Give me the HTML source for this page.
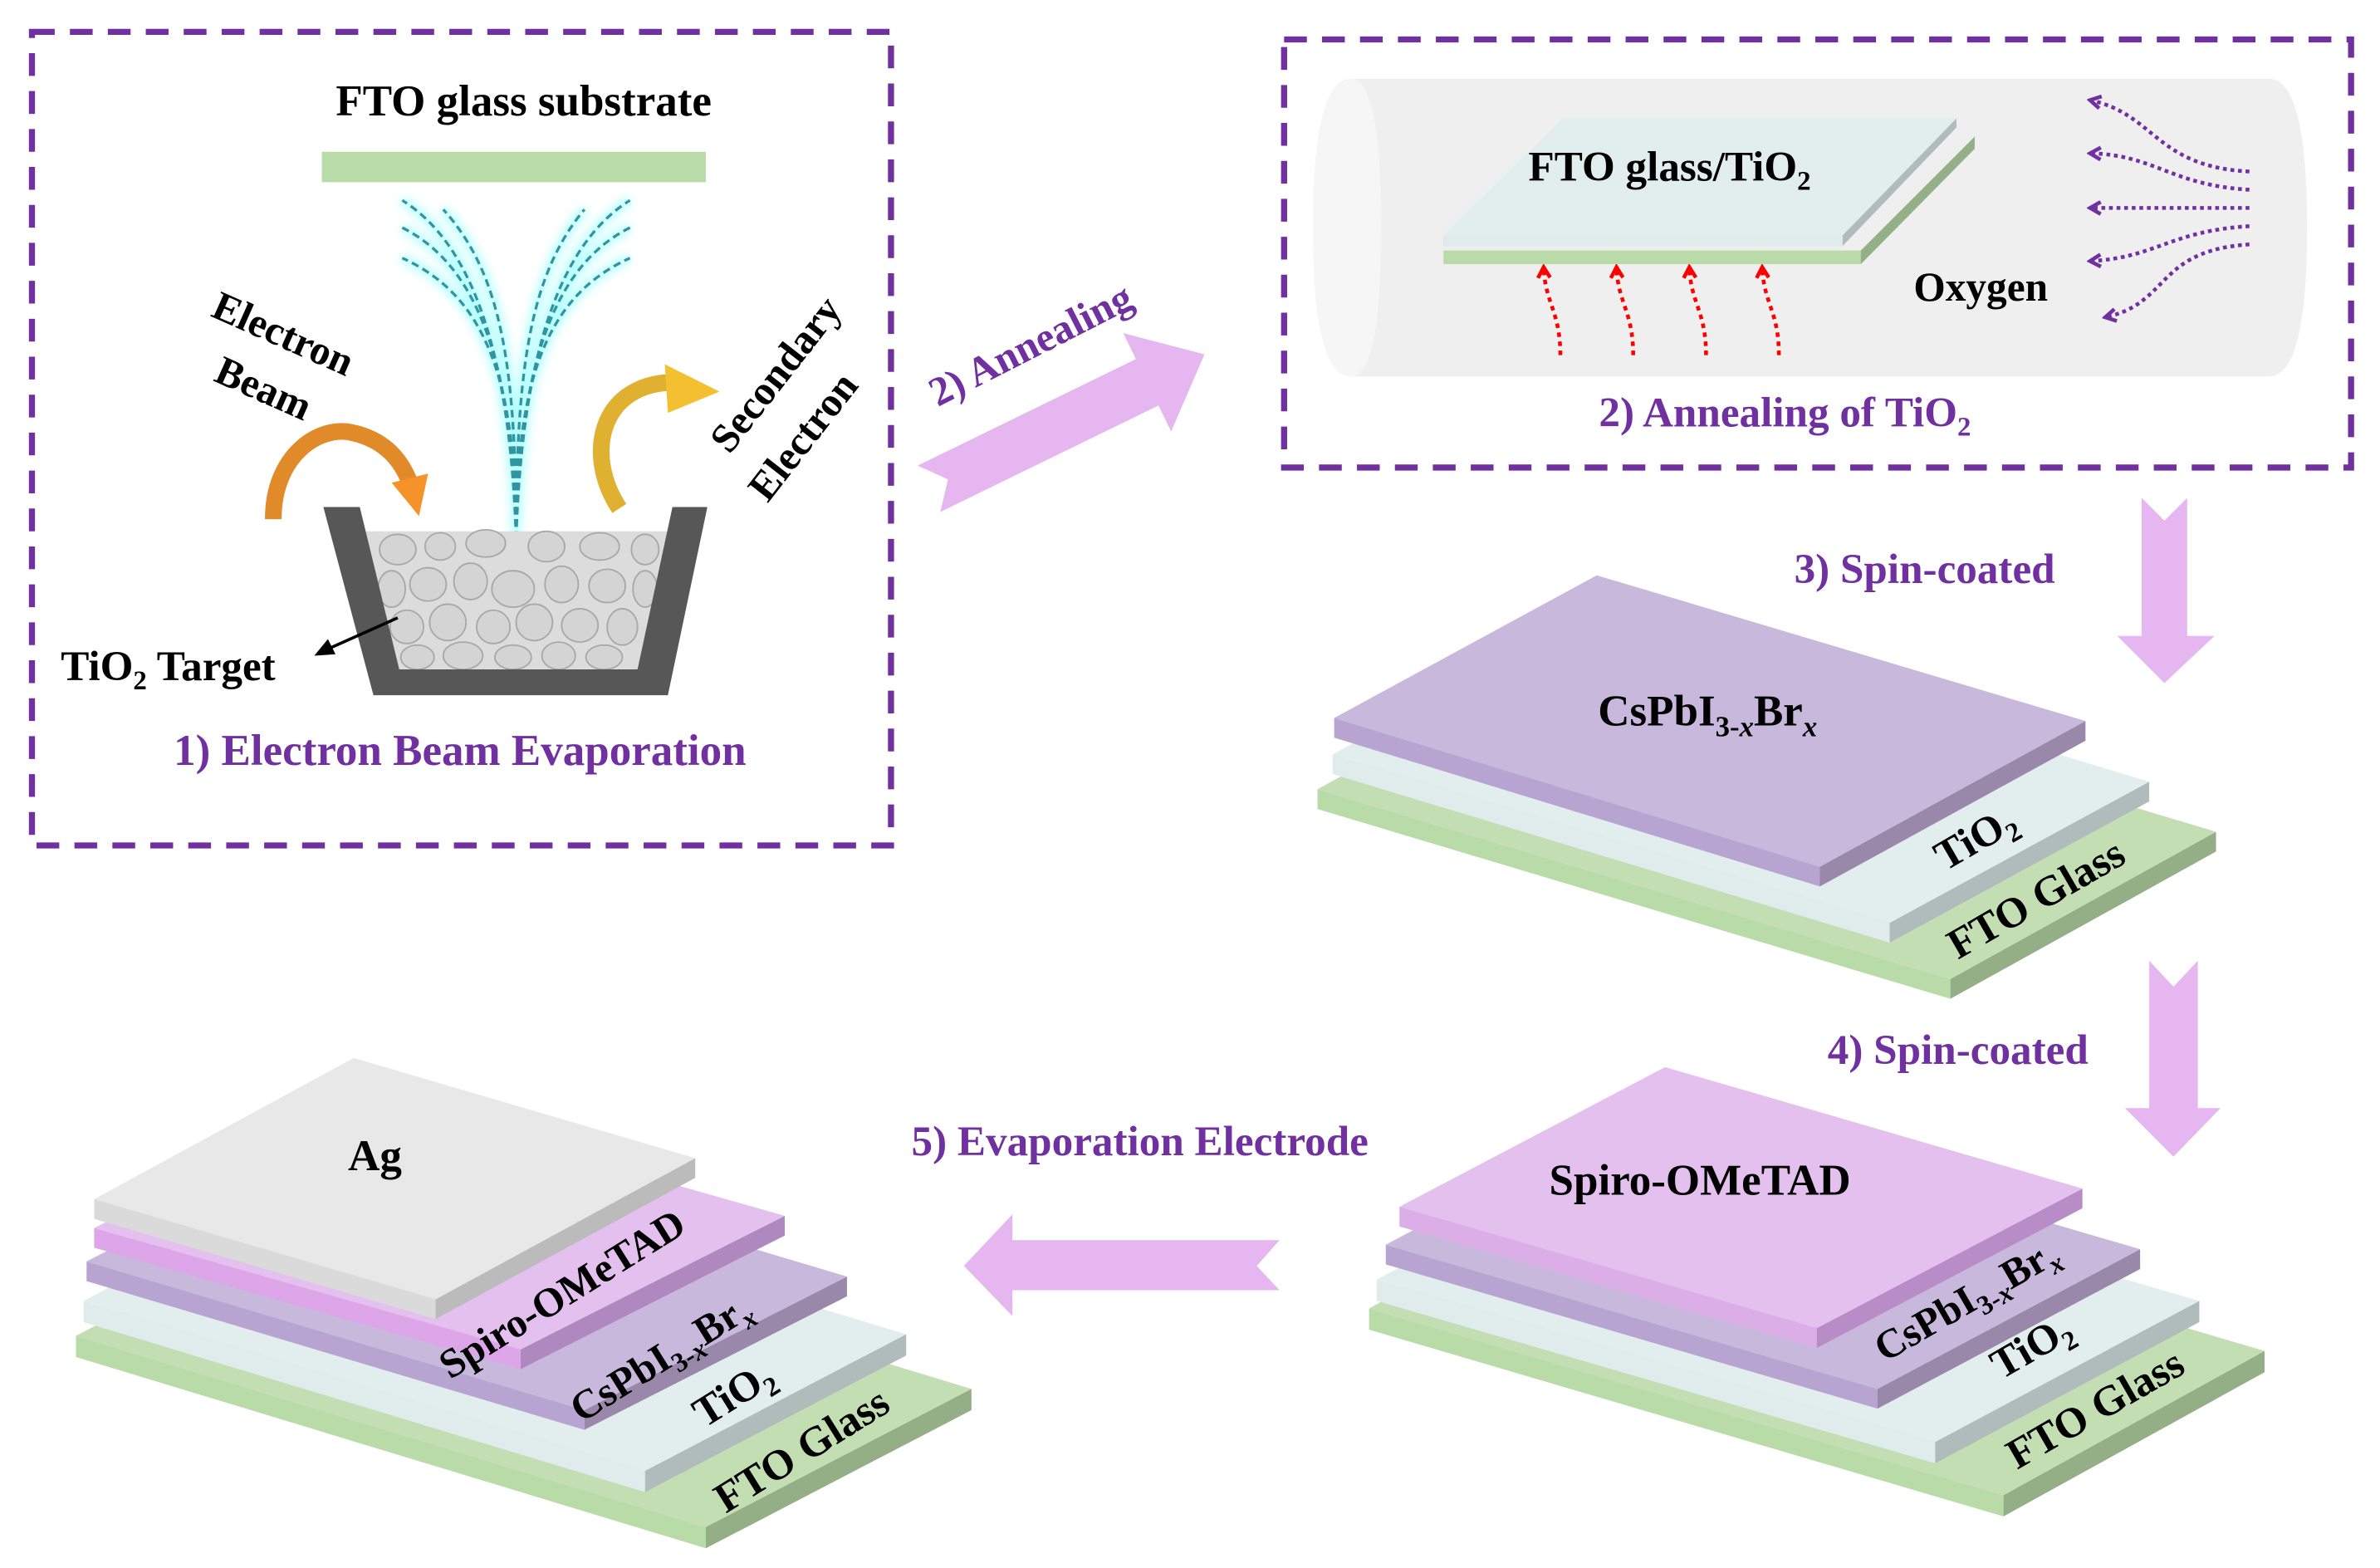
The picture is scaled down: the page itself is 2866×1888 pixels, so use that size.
<!DOCTYPE html>
<html><head><meta charset="utf-8"><style>html,body{margin:0;padding:0;background:#fff}svg{display:block}text{font-family:"Liberation Serif",serif;font-weight:bold}</style></head>
<body>
<svg width="2866" height="1888" viewBox="0 0 1568 1033" xmlns="http://www.w3.org/2000/svg">
<defs>
<filter id="glow" x="-20%" y="-20%" width="140%" height="140%"><feGaussianBlur stdDeviation="3"/></filter>
<marker id="pa" markerWidth="10" markerHeight="10" refX="8" refY="5" orient="auto" markerUnits="userSpaceOnUse"><path d="M1,1 L8,5 L1,9" fill="none" stroke="#7030a0" stroke-width="2.5"/></marker>
<marker id="ra" markerWidth="10" markerHeight="10" refX="8" refY="5" orient="auto" markerUnits="userSpaceOnUse"><path d="M1,1 L8,5 L1,9" fill="none" stroke="#ff0000" stroke-width="2.5"/></marker>
</defs>
<!-- Box 1 -->
<rect x="21" y="21" width="566" height="536" fill="none" stroke="#7030a0" stroke-width="4" stroke-dasharray="15,10"/>
<text x="345" y="76" font-size="29" text-anchor="middle">FTO glass substrate</text>
<rect x="212" y="100" width="253" height="20" fill="#b9dba8"/>
<g fill="none" stroke="#8ff" stroke-width="6" opacity="0.6" filter="url(#glow)">
<path d="M340,355 C340,250 320,195 265,170"/><path d="M340,355 C338,240 315,175 265,150"/><path d="M340,355 C336,230 310,160 265,132"/><path d="M340,355 C340,240 330,180 292,138"/>
<path d="M340,355 C340,250 360,195 415,170"/><path d="M340,355 C342,240 365,175 415,150"/><path d="M340,355 C344,230 370,160 415,132"/><path d="M340,355 C340,240 350,180 385,138"/>
</g>
<g fill="none" stroke="#2f95a0" stroke-width="1.8" stroke-dasharray="5,3">
<path d="M340,355 C340,250 320,195 265,170"/><path d="M340,355 C338,240 315,175 265,150"/><path d="M340,355 C336,230 310,160 265,132"/><path d="M340,355 C340,240 330,180 292,138"/>
<path d="M340,355 C340,250 360,195 415,170"/><path d="M340,355 C342,240 365,175 415,150"/><path d="M340,355 C344,230 370,160 415,132"/><path d="M340,355 C340,240 350,180 385,138"/>
</g>
<!-- crucible -->
<polygon points="240,350 440,350 424,443 257,443" fill="#dcdcdc"/>
<g fill="#d4d4d4" stroke="#a8a8a8" stroke-width="1">
<ellipse cx="262" cy="362" rx="12" ry="10"/><ellipse cx="290" cy="360" rx="10" ry="9"/><ellipse cx="320" cy="358" rx="13" ry="9"/><ellipse cx="360" cy="360" rx="12" ry="10"/><ellipse cx="395" cy="360" rx="13" ry="9"/><ellipse cx="425" cy="362" rx="9" ry="10"/>
<ellipse cx="258" cy="388" rx="9" ry="12"/><ellipse cx="282" cy="385" rx="12" ry="11"/><ellipse cx="310" cy="383" rx="11" ry="12"/><ellipse cx="338" cy="388" rx="14" ry="12"/><ellipse cx="370" cy="385" rx="11" ry="12"/><ellipse cx="400" cy="386" rx="12" ry="11"/><ellipse cx="425" cy="388" rx="8" ry="12"/>
<ellipse cx="268" cy="413" rx="11" ry="11"/><ellipse cx="295" cy="410" rx="12" ry="12"/><ellipse cx="325" cy="413" rx="11" ry="11"/><ellipse cx="352" cy="410" rx="12" ry="12"/><ellipse cx="382" cy="412" rx="12" ry="11"/><ellipse cx="410" cy="413" rx="10" ry="12"/>
<ellipse cx="275" cy="433" rx="11" ry="8"/><ellipse cx="305" cy="432" rx="13" ry="9"/><ellipse cx="338" cy="433" rx="12" ry="8"/><ellipse cx="368" cy="432" rx="11" ry="9"/><ellipse cx="398" cy="433" rx="12" ry="8"/>
</g>
<polygon points="213,334 237,334 263,441 420,441 443,334 466,334 440,458 246,458" fill="#575757"/>
<!-- electron beam arrows -->
<path d="M180,342 C180,300 210,280 232,285 C255,290 265,305 270,318" fill="none" stroke="#e08a2a" stroke-width="11"/>
<polygon points="258,318 282,312 276,340" fill="#f5922a"/>
<path d="M408,335 C385,300 395,255 440,252" fill="none" stroke="#e0b030" stroke-width="11"/>
<polygon points="438,240 474,258 440,272" fill="#f2c030"/>
<text font-size="27" transform="translate(183,228) rotate(24)" text-anchor="middle">Electron</text>
<text font-size="27" transform="translate(170,264) rotate(24)" text-anchor="middle">Beam</text>
<text font-size="27" transform="translate(518,252) rotate(-52)" text-anchor="middle">Secondary</text>
<text font-size="27" transform="translate(536,293) rotate(-52)" text-anchor="middle">Electron</text>
<text x="40" y="448" font-size="28">TiO<tspan font-size="18" dy="6">2</tspan><tspan dy="-6"> Target</tspan></text>
<line x1="262" y1="407" x2="215" y2="428" stroke="#000" stroke-width="2"/>
<polygon points="207,432 216,421 221,431" fill="#000"/>
<text x="303" y="504" font-size="29" fill="#7030a0" text-anchor="middle">1) Electron Beam Evaporation</text>
<!-- annealing arrow -->
<polygon transform="translate(612,322) rotate(-26)" points="0,-17 160,-17 160,-36 202,0 160,36 160,17 0,17 14,0" fill="#e6b6f0"/>
<text font-size="27" fill="#7030a0" transform="translate(683,235) rotate(-27)" text-anchor="middle">2) Annealing</text>
<!-- Box 2 -->
<rect x="846" y="26" width="703" height="282" fill="none" stroke="#7030a0" stroke-width="4" stroke-dasharray="15,10"/>
<path d="M890,52 L1495,52 Q1520,52 1520,150 Q1520,248 1495,248 L890,248 Q865,248 865,150 Q865,52 890,52 Z" fill="#efefef"/>
<path d="M890,52 Q865,52 865,150 Q865,248 890,248 Q910,248 910,150 Q910,52 890,52 Z" fill="#f6f6f6"/>
<polygon points="951,165 1226,165 1301,90 1301,98 1226,174 951,174" fill="#b9dba8"/>
<polygon points="1226,174 1301,98 1301,90 1226,165" fill="#95b088"/>
<polygon points="951,155 1214,155 1289,78 1289,84 1214,162 951,162" fill="#b0bcbc"/>
<polygon points="951,155 1214,155 1289,78 1029,78" fill="#e2eeee"/>
<polygon points="951,155 1214,155 1214,162 951,162" fill="#e0ecec"/>
<text x="1100" y="119" font-size="28" text-anchor="middle">FTO glass/TiO<tspan font-size="18" dy="6">2</tspan></text>
<g fill="none" stroke="#ff0000" stroke-width="2.5" stroke-dasharray="3,3" marker-end="url(#ra)">
<path d="M1028,234 C1028,205 1018,200 1017,176"/><path d="M1076,234 C1076,205 1066,200 1065,176"/><path d="M1124,234 C1124,205 1114,200 1113,176"/><path d="M1172,234 C1172,205 1162,200 1161,176"/>
</g>
<g fill="none" stroke="#7030a0" stroke-width="2.5" stroke-dasharray="2.5,2.5" marker-end="url(#pa)">
<path d="M1482,113 C1420,110 1420,75 1377,66"/><path d="M1482,125 C1430,122 1420,102 1377,101"/><path d="M1482,137 L1377,137"/><path d="M1482,149 C1430,152 1420,170 1377,172"/><path d="M1482,161 C1420,165 1430,200 1387,209"/>
</g>
<text x="1305" y="198" font-size="27" text-anchor="middle">Oxygen</text>
<text x="1176" y="281" font-size="28" fill="#7030a0" text-anchor="middle">2) Annealing of TiO<tspan font-size="18" dy="6">2</tspan></text>
<!-- down arrows -->
<polygon points="1411,328 1426,343 1441,328 1441,419 1459,419 1426,450 1395,419 1411,419" fill="#e6b6f0"/>
<text x="1268" y="384" font-size="28" fill="#7030a0" text-anchor="middle">3) Spin-coated</text>
<polygon points="1416,633 1432,650 1448,633 1448,730 1463,730 1432,762 1400,730 1416,730" fill="#e6b6f0"/>
<text x="1290" y="701" font-size="28" fill="#7030a0" text-anchor="middle">4) Spin-coated</text>
<!-- left arrow -->
<polygon points="843,817 828,834 843,850 667,850 667,867 635,834 667,800 667,817" fill="#e6b6f0"/>
<text x="751" y="761" font-size="28" fill="#7030a0" text-anchor="middle">5) Evaporation Electrode</text>

<!-- Stack 1 -->
<g>
<polygon points="868,520 1285,645 1285,658 868,533" fill="#b9dba8"/><polygon points="1285,645 1460,548 1460,561 1285,658" fill="#94ae86"/><polygon points="868,520 1043,423 1460,548 1285,645" fill="#c4deb4"/>
<polygon points="878,497 1245,608 1245,621 878,510" fill="#e0ecec"/><polygon points="1245,608 1416,515 1416,528 1245,621" fill="#b0bcbc"/><polygon points="878,497 1049,404 1416,515 1245,608" fill="#e2eeee"/>
<polygon points="879,473 1199,571 1199,584 879,486" fill="#b8a4d0"/><polygon points="1199,571 1374,475 1374,488 1199,584" fill="#9a88aa"/><polygon points="879,473 1052,379 1374,475 1199,571" fill="#c8b8dc"/>
<text x="1125" y="478" font-size="29" text-anchor="middle">CsPbI<tspan font-size="19" dy="7">3-<tspan font-style="italic">x</tspan></tspan><tspan dy="-7">Br</tspan><tspan font-size="19" dy="7" font-style="italic">x</tspan></text>
<text font-size="28" transform="translate(1306,560) rotate(-30)" text-anchor="middle">TiO<tspan font-size="18" dy="6">2</tspan></text>
<text font-size="28" transform="translate(1346,600) rotate(-30)" text-anchor="middle">FTO Glass</text>
</g>
<!-- Stack 2 -->
<g>
<polygon points="902,862 1320,985 1320,999 902,876" fill="#b9dba8"/><polygon points="1320,985 1492,890 1492,904 1320,999" fill="#94ae86"/><polygon points="902,862 1074,767 1492,890 1320,985" fill="#c4deb4"/>
<polygon points="907,843 1275,950 1275,964 907,857" fill="#e0ecec"/><polygon points="1275,950 1449,857 1449,871 1275,964" fill="#b0bcbc"/><polygon points="907,843 1081,750 1449,857 1275,950" fill="#e2eeee"/>
<polygon points="913,820 1237,915 1237,928 913,833" fill="#b8a4d0"/><polygon points="1237,915 1410,823 1410,836 1237,928" fill="#9a88aa"/><polygon points="913,820 1086,728 1410,823 1237,915" fill="#c8b8dc"/>
<polygon points="922,795 1197,875 1197,888 922,808" fill="#dcaee8"/><polygon points="1197,875 1372,783 1372,796 1197,888" fill="#b88cc6"/><polygon points="922,795 1097,703 1372,783 1197,875" fill="#e4c0ee"/>
<text x="1120" y="787" font-size="29" text-anchor="middle">Spiro-OMeTAD</text>
<text font-size="27" transform="translate(1300,864) rotate(-30)" text-anchor="middle">CsPbI<tspan font-size="18" dy="6">3-<tspan font-style="italic">x</tspan></tspan><tspan dy="-6">Br</tspan><tspan font-size="18" dy="6" font-style="italic">x</tspan></text>
<text font-size="28" transform="translate(1343,895) rotate(-30)" text-anchor="middle">TiO<tspan font-size="18" dy="6">2</tspan></text>
<text font-size="28" transform="translate(1385,936) rotate(-30)" text-anchor="middle">FTO Glass</text>
</g>
<!-- Stack 3 -->
<g>
<polygon points="50,880 465,1006 465,1020 50,894" fill="#b9dba8"/><polygon points="465,1006 640,915 640,929 465,1020" fill="#94ae86"/><polygon points="50,880 225,789 640,915 465,1006" fill="#c4deb4"/>
<polygon points="55,857 425,969 425,983 55,871" fill="#e0ecec"/><polygon points="425,969 597,879 597,893 425,983" fill="#b0bcbc"/><polygon points="55,857 227,767 597,879 425,969" fill="#e2eeee"/>
<polygon points="57,831 385,929 385,942 57,844" fill="#b8a4d0"/><polygon points="385,929 558,841 558,854 385,942" fill="#9a88aa"/><polygon points="57,831 230,743 558,841 385,929" fill="#c8b8dc"/>
<polygon points="62,809 343,889 343,902 62,822" fill="#dca6e8"/><polygon points="343,889 517,801 517,814 343,902" fill="#b088c0"/><polygon points="62,809 236,721 517,801 343,889" fill="#e4c0ee"/>
<polygon points="62,790 287,856 287,869 62,803" fill="#dadada"/><polygon points="287,856 458,763 458,776 287,869" fill="#bbbbbb"/><polygon points="62,790 233,697 458,763 287,856" fill="#e8e8e8"/>
<text x="247" y="771" font-size="29" text-anchor="middle">Ag</text>
<text font-size="27" transform="translate(375,860) rotate(-32)" text-anchor="middle">Spiro-OMeTAD</text>
<text font-size="27" transform="translate(440,902) rotate(-32)" text-anchor="middle">CsPbI<tspan font-size="18" dy="6">3-<tspan font-style="italic">x</tspan></tspan><tspan dy="-6">Br</tspan><tspan font-size="18" dy="6" font-style="italic">x</tspan></text>
<text font-size="28" transform="translate(488,926) rotate(-32)" text-anchor="middle">TiO<tspan font-size="18" dy="6">2</tspan></text>
<text font-size="28" transform="translate(533,963) rotate(-32)" text-anchor="middle">FTO Glass</text>
</g>
</svg>
</body></html>
